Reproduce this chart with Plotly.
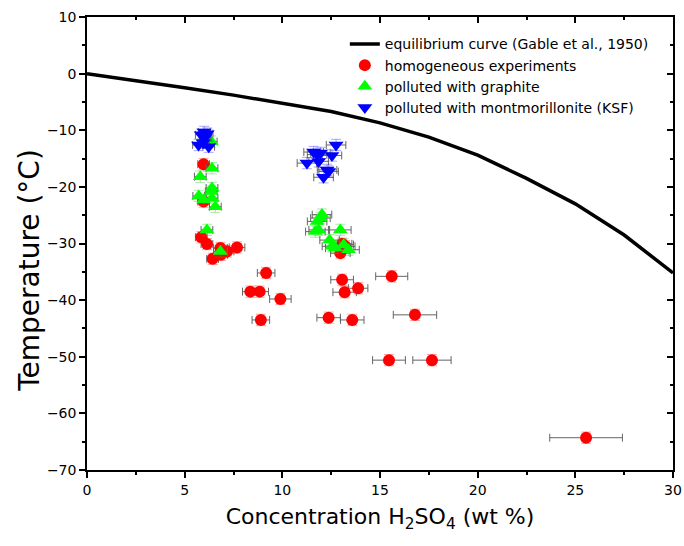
import plotly.graph_objects as go

# Equilibrium curve (Gable et al., 1950)
eq_x = [0, 2.5, 5, 7.5, 10, 12.5, 15, 17.5, 20, 22.5, 25, 27.5, 30]
eq_y = [0, -1.2, -2.5, -3.8, -5.2, -6.7, -8.7, -11.2, -14.4, -18.5, -23.0, -28.5, -35.2]

# Homogeneous experiments
hom_x = [5.97, 5.97, 5.85, 6.14, 6.43, 6.83, 6.85, 7.17, 7.68, 9.17, 8.36, 8.84, 9.9, 8.9,
         12.37, 13.58, 13.06, 13.19, 13.88, 13.06, 12.97, 13.22, 15.6, 16.79, 15.46, 17.66, 25.55]
hom_y = [-16.0, -22.6, -28.9, -30.1, -32.7, -30.8, -32.0, -31.4, -30.7, -35.2, -38.5, -38.5, -39.8, -43.5,
         -43.1, -43.5, -36.4, -38.6, -37.9, -30.05, -31.7, -30.5, -35.8, -42.6, -50.6, -50.6, -64.3]
hom_xerr = [0.3, 0.3, 0.3, 0.3, 0.3, 0.35, 0.35, 0.35, 0.4, 0.45, 0.4, 0.45, 0.55, 0.45,
            0.6, 0.6, 0.58, 0.6, 0.5, 0.5, 0.5, 0.5, 0.82, 1.11, 0.84, 0.98, 1.86]

# Polluted with graphite
gra_x = [6.36, 6.40, 5.80, 6.40, 6.36, 5.72, 5.97, 6.40, 6.57, 6.14, 6.83,
         12.03, 11.95, 11.78, 11.86, 11.69, 12.97, 12.42, 12.54, 12.71, 13.39, 13.14]
gra_y = [-12.0, -16.7, -18.2, -20.2, -20.8, -21.6, -22.3, -22.0, -23.5, -27.6, -31.4,
         -24.9, -25.5, -26.1, -27.6, -27.9, -27.6, -29.4, -30.5, -30.8, -31.1, -30.2]
gra_xerr = [0.3, 0.3, 0.3, 0.3, 0.3, 0.3, 0.3, 0.3, 0.3, 0.3, 0.35,
            0.5, 0.5, 0.5, 0.5, 0.5, 0.55, 0.5, 0.5, 0.5, 0.55, 0.5]

# Polluted with montmorillonite (KSF)
ksf_x = [6.0, 5.85, 6.15, 6.05, 5.71, 6.23, 5.95,
         12.75, 12.54, 11.6, 11.95, 11.78, 11.26, 11.86, 12.29, 12.11, 12.37]
ksf_y = [-10.3, -10.8, -10.6, -11.3, -12.6, -12.9, -12.2,
         -12.6, -14.45, -13.85, -14.0, -14.3, -15.8, -15.5, -17.0, -18.3, -17.3]
ksf_xerr = [0.3, 0.3, 0.3, 0.3, 0.3, 0.3, 0.3,
            0.5, 0.5, 0.5, 0.5, 0.5, 0.5, 0.5, 0.5, 0.5, 0.5]

X_TICKS = [0, 5, 10, 15, 20, 25, 30]
Y_TICKS = [10, 0, -10, -20, -30, -40, -50, -60, -70]

FONT = "DejaVu Sans, Arial, sans-serif"
ERRC = "rgb(100,100,100)"

fig = go.Figure()
fig.add_trace(go.Scatter(x=eq_x, y=eq_y, mode="lines",
                         line=dict(color="black", width=3.5),
                         name="equilibrium curve (Gable et al., 1950)"))

def pts(x, y, xe, color, symbol, size, name, halo):
    return go.Scatter(
        x=x, y=y, mode="markers", name=name,
        marker=dict(color=color, symbol=symbol, size=size, line=dict(width=0)),
        error_x=dict(type="data", array=xe, color=ERRC, thickness=1, width=4),
        error_y=dict(type="constant", value=1.0, color=halo, thickness=1, width=5),
    )

fig.add_trace(pts(hom_x, hom_y, hom_xerr, "#ff0000", "circle", 12,
                  "homogeneous experiments", "rgba(255,0,0,0.35)"))
fig.add_trace(pts(gra_x, gra_y, gra_xerr, "#00ff00", "triangle-up", 13,
                  "polluted with graphite", "rgba(0,200,0,0.35)"))
fig.add_trace(pts(ksf_x, ksf_y, ksf_xerr, "#0000ff", "triangle-down", 13,
                  "polluted with montmorillonite (KSF)", "rgba(0,0,255,0.35)"))

# dummy trace to activate mirrored axes with inward ticks
fig.add_trace(go.Scatter(x=[None], y=[None], xaxis="x2", yaxis="y2",
                         showlegend=False, hoverinfo="skip"))

ax_common = dict(showgrid=False, zeroline=False, linecolor="black", linewidth=1.5,
                 tickcolor="black", tickwidth=1.5, ticklen=6, automargin=False,
                 tickfont=dict(family=FONT, size=14, color="black"))

fig.update_layout(
    width=684, height=546,
    margin=dict(l=87, r=11, t=17, b=76),
    paper_bgcolor="white", plot_bgcolor="white",
    font=dict(family=FONT, color="black"),
    xaxis=dict(range=[0, 30], tickvals=X_TICKS, ticks="outside",
               minor=dict(dtick=2.5, tick0=0, ticklen=3, ticks="outside",
                          tickcolor="black", tickwidth=1.5),
               title=dict(text="Concentration H<sub>2</sub>SO<sub>4</sub> (wt %)",
                          font=dict(family=FONT, size=22), standoff=12),
               **ax_common),
    yaxis=dict(range=[-70, 10], tickvals=Y_TICKS, ticks="outside",
               minor=dict(dtick=5, tick0=0, ticklen=3, ticks="outside",
                          tickcolor="black", tickwidth=1.5),
               **ax_common),
    xaxis2=dict(range=[0, 30], overlaying="x", side="top", anchor="y",
                tickvals=X_TICKS, ticks="inside", showticklabels=False,
                minor=dict(dtick=2.5, tick0=0, ticklen=3, ticks="inside",
                           tickcolor="black", tickwidth=1.5),
                **ax_common),
    yaxis2=dict(range=[-70, 10], overlaying="y", side="right", anchor="x",
                tickvals=Y_TICKS, ticks="inside", showticklabels=False,
                minor=dict(dtick=5, tick0=0, ticklen=3, ticks="inside",
                           tickcolor="black", tickwidth=1.5),
                **ax_common),
    legend=dict(x=0.44, y=0.975, xanchor="left", yanchor="top",
                bgcolor="rgba(0,0,0,0)", borderwidth=0,
                font=dict(family=FONT, size=14, color="black"),
                tracegroupgap=0, itemwidth=30),
    showlegend=True,
    annotations=[dict(text="Temperature (°C)", textangle=-90, showarrow=False,
                      xref="paper", yref="paper", x=-0.097, y=0.44,
                      xanchor="center", yanchor="middle",
                      font=dict(family=FONT, size=28, color="black"))],
)

fig.write_html("out.html", config={"displayModeBar": False})

# remove the default page margin so the figure sits at the window origin
with open("out.html", "r", encoding="utf-8") as f:
    html = f.read()
html = html.replace("<head>", "<head><style>html,body{margin:0;padding:0;overflow:hidden;}</style>", 1)
with open("out.html", "w", encoding="utf-8") as f:
    f.write(html)
